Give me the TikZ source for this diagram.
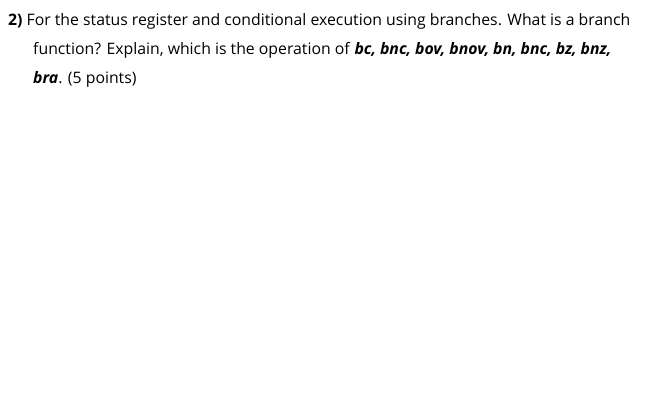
\documentclass[tikz,border=0pt]{standalone}
\usepackage{fontspec}
\setmainfont{Open Sans}
\begin{document}
\begin{tikzpicture}[x=1pt,y=1pt,txt/.style={anchor=base west,inner sep=0pt,font=\fontsize{15.8}{18}\selectfont}]
\useasboundingbox[fill=white] (0,0) rectangle (663,-413);
\node[txt] (l1) at (8,-25) {\textbf{2)} For the status register and conditional execution using branches. What is a branch};
\node[txt] (l2) at (33,-54) {function? Explain, which is the operation of \textbf{\textit{bc, bnc, bov, bnov, bn, bnc, bz, bnz,}}};
\node[txt] (l3) at (33,-83) {\textbf{\textit{bra}}. (5 points)};
\end{tikzpicture}
\end{document}
